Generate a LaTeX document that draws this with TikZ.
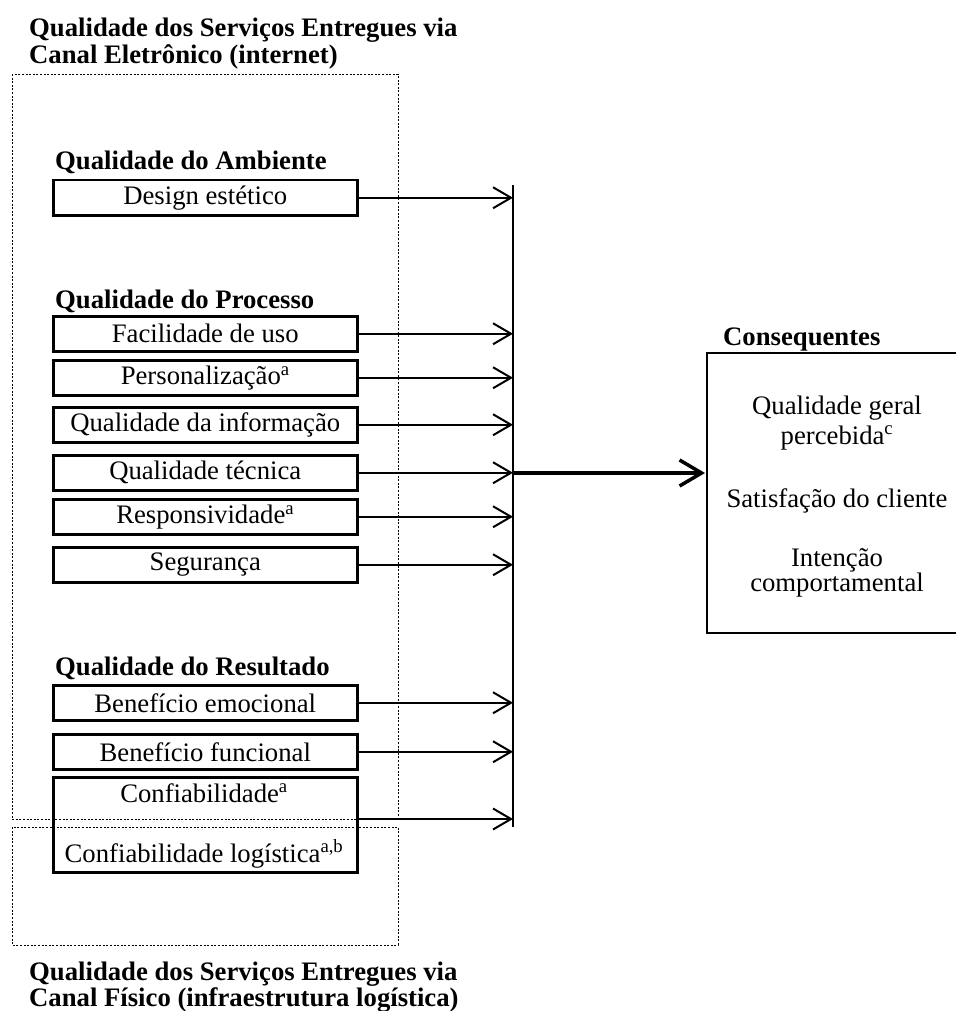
\documentclass[tikz,border=0pt]{standalone}
\usepackage{fontspec}
\setmainfont{Liberation Serif}
\usetikzlibrary{arrows.meta}
\begin{document}
\begin{tikzpicture}[x=1pt,y=-1pt,
  every node/.style={font=\fontsize{26.7}{27}\selectfont},
  head/.style={anchor=base west, inner sep=0pt, font=\bfseries\fontsize{26.7}{27}\selectfont},
  txt/.style={anchor=base, inner sep=0pt},
  qbox/.style={draw, line width=2.5pt, minimum width=304pt, minimum height=35pt, inner sep=0pt, anchor=north west},
  feed/.style={line width=2pt, -{Straight Barb[length=18pt,width=21pt,line width=2pt]}},
  mainarrow/.style={line width=3.5pt, -{Straight Barb[length=22pt,width=26pt,line width=3.5pt]}},
  zone/.style={line width=0.8pt, dash pattern=on 2pt off 1.6pt},
  ]
\useasboundingbox (0,0) rectangle (955,1011);

% zones
\draw[zone] (12,74) rectangle (398,819);
\draw[zone] (12,827) rectangle (398,945);

% titles
\node[head] (t1a) at (29,37) {Qualidade dos Serviços Entregues via};
\node[head] (t1b) at (29,64) {Canal Eletrônico (internet)};
\node[head] (t2a) at (29,980) {Qualidade dos Serviços Entregues via};
\node[head] (t2b) at (29,1006) {Canal Físico (infraestrutura logística)};

% group headings
\node[head] (hamb) at (55,170) {Qualidade do Ambiente};
\node[head] (hproc) at (55,308) {Qualidade do Processo};
\node[head] (hres) at (55,675) {Qualidade do Resultado};
\node[head] (hcons) at (723,345) {Consequentes};

% boxes
\node[qbox] (design) at (52,179) {Design estético};
\node[qbox] (facil) at (52,315) {Facilidade de uso};
\node[qbox] (pers) at (52,359) {Personalização\textsuperscript{a}};
\node[qbox] (info) at (52,406) {Qualidade da informação};
\node[qbox] (tec) at (52,454) {Qualidade técnica};
\node[qbox] (resp) at (52,498) {Responsividade\textsuperscript{a}};
\node[qbox] (seg) at (52,546) {Segurança};
\node[qbox] (bemo) at (52,684) {Benefício emocional};
\node[qbox] (bfun) at (52,733) {Benefício funcional};
\node[qbox, minimum height=95pt] (conf) at (52,776) {};
\node[txt] (conf1) at (204,802) {Confiabilidade\textsuperscript{a}};
\node[txt] (conf2) at (204,862) {Confiabilidade logística\textsuperscript{a,b}};

% bar
\coordinate (bartop) at (513,185);
\coordinate (barbot) at (513,827);
\coordinate (barmid) at (513,473);
\draw[line width=2.5pt] (bartop) -- (barbot);

% feeding arrows
\foreach \b in {design,facil,pers,info,tec,resp,seg,bemo,bfun}
  \draw[feed] (\b.east) -- (\b.east -| bartop);
\coordinate (confout) at (356,819);
\draw[feed] (confout) -- (confout -| bartop);

% consequentes box
\coordinate (cons) at (705,473);
\draw[line width=2.5pt] (960,353) -- (707,353) -- (707,633) -- (960,633);
\draw[mainarrow] (barmid) -- (cons);

\node[txt] (c1) at (837,414) {Qualidade geral};
\node[txt] (c2) at (837,444) {percebida\textsuperscript{c}};
\node[txt] (c3) at (837,507) {Satisfação do cliente};
\node[txt] (c4) at (837,566) {Intenção};
\node[txt] (c5) at (837,591) {comportamental};
\end{tikzpicture}
\end{document}
